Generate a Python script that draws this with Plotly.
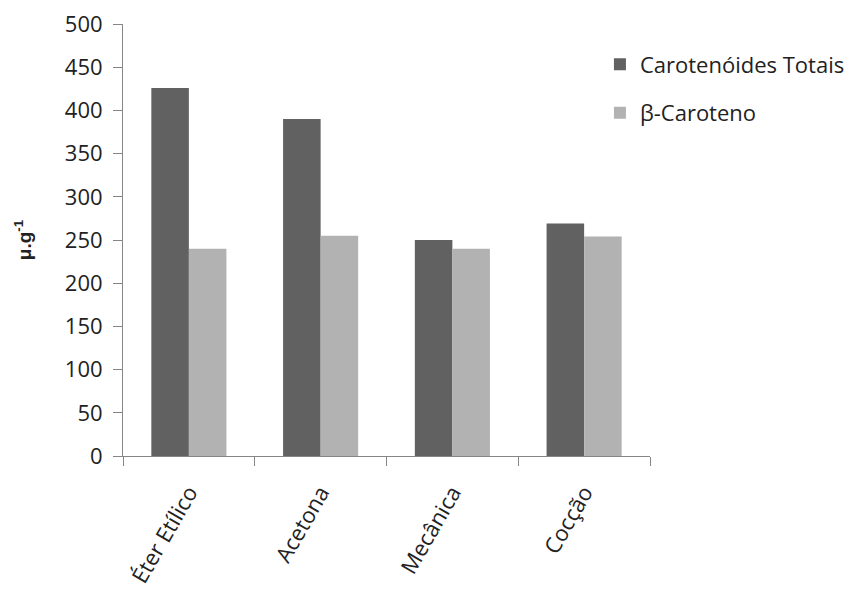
import plotly.graph_objects as go

categories = ["Éter Etílico", "Acetona", "Mecânica", "Cocção"]
carotenoides_totais = [426, 390, 250, 269]
beta_caroteno = [240, 255, 240, 254]
y_ticks = [0, 50, 100, 150, 200, 250, 300, 350, 400, 450, 500]

FONT = "Open Sans"
TXT = "#222222"

fig = go.Figure()
fig.add_trace(go.Bar(x=categories, y=carotenoides_totais, name="Carotenóides Totais",
                     marker=dict(color="#616161", line=dict(width=0)), legendgroup="a"))
fig.add_trace(go.Bar(x=categories, y=beta_caroteno, name="β-Caroteno",
                     marker=dict(color="#b2b2b2", line=dict(width=0)), legendgroup="b"))

fig.update_layout(
    width=858, height=594,
    margin=dict(l=115, r=216, t=16, b=146),
    plot_bgcolor="white", paper_bgcolor="white",
    barmode="group", bargap=0.43, bargroupgap=0,
    font=dict(family=FONT, size=22, color=TXT),
    showlegend=True,
    legend=dict(x=0.905, y=0.955, xanchor="left", yanchor="top",
                font=dict(family=FONT, size=22, color=TXT),
                itemwidth=30,
                tracegroupgap=17, bgcolor="rgba(0,0,0,0)"),
    xaxis=dict(showline=True, linecolor="#868686", linewidth=1, automargin=False,
               ticks="outside", tickson="boundaries", ticklen=9, tickcolor="#868686",
               tickangle=-60, ticklabelstandoff=14, ticklabeloverflow="allow",
               tickfont=dict(family=FONT, size=22, color=TXT),
               showgrid=False, zeroline=False),
    yaxis=dict(range=[0, 500], tickvals=y_ticks, showline=True, linecolor="#868686",
               linewidth=1, automargin=False, ticks="outside", ticklen=9, tickcolor="#868686",
               ticklabelstandoff=6, ticklabeloverflow="allow",
               tickfont=dict(family=FONT, size=22, color=TXT),
               showgrid=False, zeroline=False,
               title=dict(text="<b>μ.g<sup>-1</sup></b>", standoff=28,
                          font=dict(family="Liberation Sans", size=19, color=TXT))),
)

fig.write_html("out.html")
